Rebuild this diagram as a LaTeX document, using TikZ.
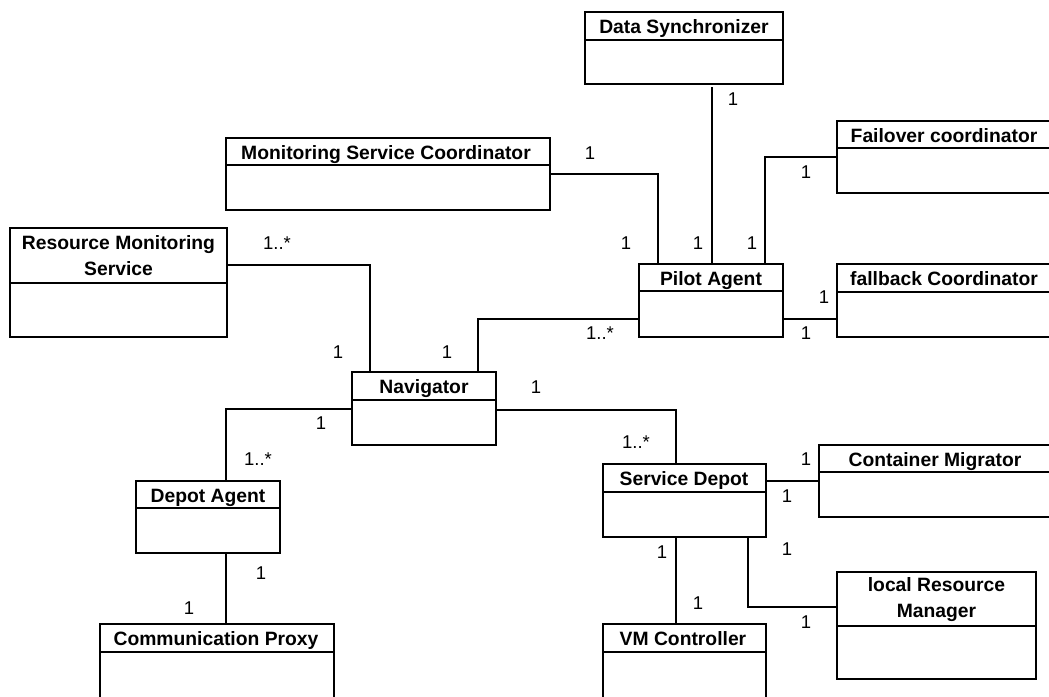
\documentclass[tikz,border=0pt]{standalone}
\usepackage{fontspec}
\setmainfont{Liberation Sans}
\usetikzlibrary{calc}

\tikzset{
  classbox/.style={draw, line width=1.4pt, inner sep=0pt, outer sep=0pt,
    anchor=north west, fill=white},
  divider/.style={line width=1.4pt},
  classtitle/.style={font=\fontsize{19.3}{26}\selectfont\bfseries,
    align=center, inner sep=0pt},
  mult/.style={font=\fontsize{18.5}{22}\selectfont, inner sep=0pt},
  assoc/.style={draw, line width=1.4pt},
}

% \umlclass{name}{left}{top}{width}{height}{header height}
\newcommand{\umlclass}[6]{%
  \node[classbox, minimum width=#4pt, minimum height=#5pt] (#1) at (#2,#3) {};
  \draw[divider] ($(#1.north west)+(0,#6)$) -- ($(#1.north east)+(0,#6)$);
}
% one-line class name, baseline 21 below the top edge
\newcommand{\umltitle}[3]{%
  \node[classtitle, anchor=base] (#1-title) at ($(#1.north west)+(#2,21)$) {#3};
}

\begin{document}
\begin{tikzpicture}[x=1pt,y=-1pt]
\useasboundingbox (0,0) rectangle (1049,696);
\fill[white] (0,0) rectangle (1049,696);
\clip (0,0) rectangle (1049,696);

% classes
\umlclass{ds}{585}{12}{198}{72}{28}
\umltitle{ds}{99}{Data Synchronizer}

\umlclass{msc}{226}{138}{324}{72}{27}
\umltitle{msc}{160}{Monitoring Service Coordinator}

\umlclass{fo}{837}{121}{214}{72}{27}
\umltitle{fo}{107}{Failover coordinator}

\umlclass{rms}{10}{228}{217}{109}{55}
\node[classtitle] (rms-title) at ($(rms.north west)+(108.5,27.5)$)
  {Resource Monitoring\\Service};

\umlclass{pilot}{639}{264}{144}{73}{27}
\umltitle{pilot}{72}{Pilot Agent}

\umlclass{fb}{837}{264}{214}{73}{28}
\umltitle{fb}{107}{fallback Coordinator}

\umlclass{nav}{352}{372}{144}{73}{28}
\umltitle{nav}{72}{Navigator}

\umlclass{da}{136}{481}{144}{72}{27}
\umltitle{da}{72}{Depot Agent}

\umlclass{sd}{603}{464}{163}{73}{28}
\umltitle{sd}{81}{Service Depot}

\umlclass{cm}{819}{445}{233}{72}{27}
\umltitle{cm}{116}{Container Migrator}

\umlclass{lrm}{837}{572}{199}{107}{54}
\node[classtitle] (lrm-title) at ($(lrm.north west)+(99.5,27.5)$)
  {local Resource\\Manager};

\umlclass{cp}{100}{624}{234}{90}{28}
\umltitle{cp}{116}{Communication Proxy}

\umlclass{vm}{603}{624}{163}{90}{28}
\umltitle{vm}{80}{VM Controller}

% associations
\draw[assoc] ($(ds.south west)+(127,3)$) -- ($(pilot.north west)+(73,0)$);
\draw[assoc] ($(msc.north east)+(0,36)$) -| ($(pilot.north west)+(19,0)$);
\draw[assoc] ($(fo.north west)+(0,36)$) -| ($(pilot.north west)+(126,0)$);
\draw[assoc] ($(fb.north west)+(0,55)$) -- ($(pilot.north east)+(0,55)$);
\draw[assoc] ($(pilot.north west)+(0,55)$) -| ($(nav.north west)+(126,0)$);
\draw[assoc] ($(rms.north east)+(0,37)$) -| ($(nav.north west)+(18,0)$);
\draw[assoc] ($(nav.north west)+(0,37)$) -| ($(da.north west)+(90,0)$);
\draw[assoc] ($(da.south west)+(90,0)$) -- ($(cp.north west)+(126,0)$);
\draw[assoc] ($(nav.north east)+(0,38)$) -| ($(sd.north west)+(73,0)$);
\draw[assoc] ($(cm.north west)+(0,36)$) -- ($(sd.north east)+(0,17)$);
\draw[assoc] ($(sd.south west)+(73,0)$) -- ($(vm.north west)+(73,0)$);
\draw[assoc] ($(sd.south west)+(145,0)$) |- ($(lrm.north west)+(0,35)$);

% multiplicities
\node[mult] (m-ds) at (733,99) {1};
\node[mult] (m-msc) at (590,153) {1};
\node[mult] (m-fo) at (806,172) {1};
\node[mult] (m-pa1) at (626,243) {1};
\node[mult] (m-pa2) at (698,243) {1};
\node[mult] (m-pa3) at (752,243) {1};
\node[mult] (m-fb1) at (824,297) {1};
\node[mult] (m-fb2) at (806,333) {1};
\node[mult] (m-pan) at (600,333) {1..*};
\node[mult] (m-rms) at (277,243) {1..*};
\node[mult] (m-nv1) at (338,352) {1};
\node[mult] (m-nv2) at (447,352) {1};
\node[mult] (m-nv3) at (321,423) {1};
\node[mult] (m-da1) at (258,459) {1..*};
\node[mult] (m-da2) at (261,573) {1};
\node[mult] (m-cp) at (189,608) {1};
\node[mult] (m-nv4) at (536,387) {1};
\node[mult] (m-sd1) at (636,442) {1..*};
\node[mult] (m-cm1) at (806,459) {1};
\node[mult] (m-cm2) at (787,496) {1};
\node[mult] (m-sd2) at (662,552) {1};
\node[mult] (m-vm) at (698,603) {1};
\node[mult] (m-sd3) at (787,549) {1};
\node[mult] (m-lrm) at (806,622) {1};
\end{tikzpicture}
\end{document}
